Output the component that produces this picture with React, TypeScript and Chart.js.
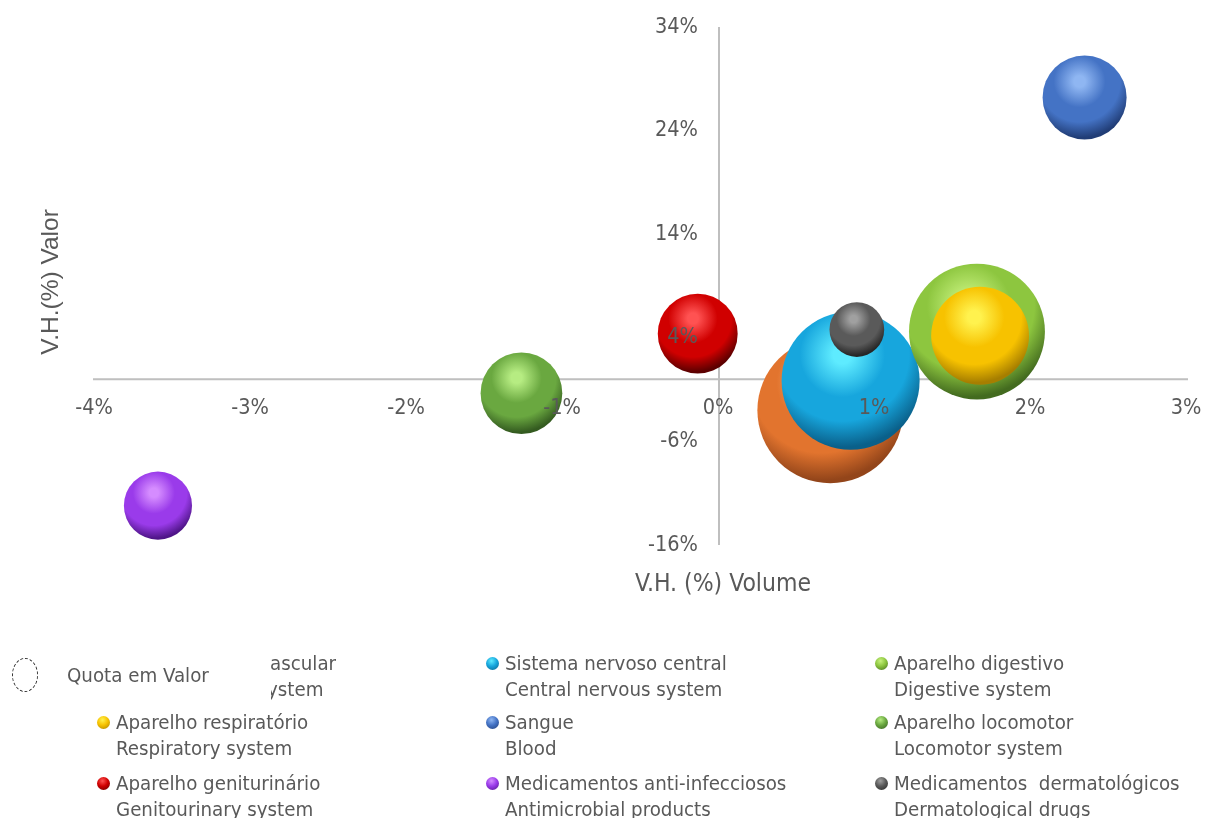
import React, { useEffect, useRef } from "react";
import { Chart, registerables } from "chart.js";

Chart.register(...registerables);

// ---- data ----
const namesPT = [
  "Aparelho cardiovascular",
  "Sistema nervoso central",
  "Aparelho digestivo",
  "Aparelho respiratório",
  "Sangue",
  "Aparelho locomotor",
  "Aparelho geniturinário",
  "Medicamentos anti-infecciosos",
  "Medicamentos  dermatológicos",
];
const namesEN = [
  "Cardiovascular system",
  "Central nervous system",
  "Digestive system",
  "Respiratory system",
  "Blood",
  "Locomotor system",
  "Genitourinary system",
  "Antimicrobial products",
  "Dermatological drugs",
];
// V.H. (%) Volume
const volumeChange = [0.72, 0.85, 1.66, 1.68, 2.35, -1.26, -0.13, -3.59, 0.89];
// V.H. (%) Valor
const valueChange = [-3.0, -0.15, 4.6, 4.2, 27.2, -1.35, 4.4, -12.2, 4.8];
// Quota em Valor (bubble size)
const valueShare = [22.0, 19.7, 19.1, 9.9, 7.3, 6.9, 6.6, 4.8, 3.1];

const xTickValues = [-4, -3, -2, -1, 0, 1, 2, 3];
const yTickValues = [-16, -6, 4, 14, 24, 34];

const xTitle = "V.H. (%) Volume";
const yTitle = "V.H.(%) Valor";
const sizeLegend = "Quota em Valor";

// ---- styles ----
const sphereColors: [string, string, string][] = [
  ["#F9B47C", "#E2742E", "#93451A"],
  ["#5EEBFF", "#17A6DD", "#0A608A"],
  ["#C8F27E", "#8DC63F", "#436B1F"],
  ["#FFF24E", "#F7C200", "#A67E00"],
  ["#8FB6F2", "#4473C5", "#213D76"],
  ["#B6EC82", "#6AA840", "#345B20"],
  ["#FF5252", "#D00000", "#5C0000"],
  ["#D58CFF", "#9A3BEA", "#4F1588"],
  ["#A0A0A0", "#5A5A5A", "#262626"],
];
const BUBBLE_SCALE = 15.55;
const FONT = "'DejaVu Sans Condensed', 'DejaVu Sans', sans-serif";
const TEXT_COLOR = "#595959";
const AXIS_COLOR = "#BFBFBF";

function sphereFill(ctx: any, i: number) {
  const [light, base, dark] = sphereColors[i];
  const chart = ctx.chart;
  if (ctx.type !== "data" || !chart.chartArea || !ctx.raw) return base;
  const raw = ctx.raw;
  const cx = chart.scales.x.getPixelForValue(raw.x);
  const cy = chart.scales.y.getPixelForValue(raw.y);
  const r = raw.r;
  const hx = cx - r * 0.12;
  const hy = cy - r * 0.38;
  const g = chart.ctx.createRadialGradient(hx, hy, 0, hx, hy, r * 1.34);
  g.addColorStop(0, light);
  g.addColorStop(0.1, light);
  g.addColorStop(0.46, base);
  g.addColorStop(0.72, base);
  g.addColorStop(1, dark);
  return g;
}

const axesPlugin = {
  id: "customAxes",
  beforeDatasetsDraw(chart: any) {
    const { ctx, chartArea, scales } = chart;
    const x0 = scales.x.getPixelForValue(0);
    const y0 = scales.y.getPixelForValue(0);
    ctx.save();
    ctx.strokeStyle = AXIS_COLOR;
    ctx.lineWidth = 2;
    ctx.beginPath();
    ctx.moveTo(chartArea.left - 1, y0);
    ctx.lineTo(chartArea.right + 2, y0);
    ctx.moveTo(x0 + 1, chartArea.top);
    ctx.lineTo(x0 + 1, chartArea.bottom);
    ctx.stroke();
    ctx.restore();
  },
  afterDatasetsDraw(chart: any) {
    const { ctx, chartArea, scales } = chart;
    const x0 = scales.x.getPixelForValue(0);
    const y0 = scales.y.getPixelForValue(0);
    ctx.save();
    ctx.fillStyle = TEXT_COLOR;
    ctx.font = `21.5px ${FONT}`;
    ctx.textAlign = "center";
    ctx.textBaseline = "middle";
    xTickValues.forEach((v) => ctx.fillText(`${v}%`, scales.x.getPixelForValue(v), y0 + 29));
    ctx.textAlign = "right";
    yTickValues.forEach((v) => ctx.fillText(`${v}%`, x0 - 20, scales.y.getPixelForValue(v)));
    ctx.font = `24.5px ${FONT}`;
    ctx.textAlign = "center";
    ctx.fillText(xTitle, x0 + 5, chartArea.bottom + 40);
    ctx.font = `24.5px 'Liberation Sans', Arial, sans-serif`;
    ctx.translate(chartArea.left - 43, (chartArea.top + chartArea.bottom) / 2 - 4);
    ctx.rotate(-Math.PI / 2);
    ctx.fillText(yTitle, 0, 0);
    ctx.restore();
  },
};

const colLefts = [116, 505, 894];
const rowCenters = [663, 722, 783];

export default function App() {
  const canvasRef = useRef<HTMLCanvasElement>(null);

  useEffect(() => {
    const canvas = canvasRef.current;
    if (!canvas) return;
    const chart = new Chart(canvas, {
      type: "bubble",
      data: {
        datasets: namesPT.map((name, i) => ({
          label: name,
          data: [{ x: volumeChange[i], y: valueChange[i], r: Math.sqrt(valueShare[i]) * BUBBLE_SCALE }],
          backgroundColor: (c: any) => sphereFill(c, i),
          hoverBackgroundColor: (c: any) => sphereFill(c, i),
          borderWidth: 0,
          hoverBorderWidth: 0,
          order: namesPT.length - i,
          clip: false,
        })),
      },
      options: {
        responsive: false,
        animation: false,
        events: [],
        layout: { autoPadding: false, padding: { left: 94, right: 20, top: 27, bottom: 273 } },
        plugins: { legend: { display: false }, tooltip: { enabled: false } },
        scales: {
          x: { type: "linear", min: -4, max: 3, display: false },
          y: { type: "linear", min: -16, max: 34, display: false },
        },
      } as any,
      plugins: [axesPlugin],
    });
    return () => chart.destroy();
  }, []);

  return (
    <div style={{ position: "absolute", left: 0, top: 0, width: 1206, height: 818, background: "#fff", overflow: "hidden" }}>
      <canvas ref={canvasRef} width={1206} height={818} style={{ display: "block", width: 1206, height: 818 }} />
      {namesPT.map((name, i) => {
        const col = i % 3;
        const row = Math.floor(i / 3);
        const left = colLefts[col];
        const cy = rowCenters[row];
        const [light, base, dark] = sphereColors[i];
        return (
          <React.Fragment key={name}>
            <div
              style={{
                position: "absolute",
                left: left - 19,
                top: cy - 6,
                width: 13,
                height: 13,
                borderRadius: "50%",
                background: `radial-gradient(circle at 42% 30%, ${light} 0%, ${base} 45%, ${dark} 100%)`,
              }}
            />
            <div
              style={{
                position: "absolute",
                left,
                top: cy - 13,
                font: `20.3px ${FONT}`,
                lineHeight: "26px",
                color: TEXT_COLOR,
                whiteSpace: "pre",
              }}
            >
              {name}
              {"\n"}
              {namesEN[i]}
            </div>
          </React.Fragment>
        );
      })}
      <div style={{ position: "absolute", left: 0, top: 648, width: 271, height: 54, background: "#fff" }}>
        <div
          style={{
            position: "absolute",
            left: 12,
            top: 10,
            width: 26,
            height: 34,
            borderRadius: "50%",
            border: "1px dashed #333",
            boxSizing: "border-box",
          }}
        />
        <div
          style={{
            position: "absolute",
            left: 67,
            top: 14,
            font: `20.3px ${FONT}`,
            lineHeight: "26px",
            color: TEXT_COLOR,
            whiteSpace: "pre",
          }}
        >
          {sizeLegend}
        </div>
      </div>
    </div>
  );
}
